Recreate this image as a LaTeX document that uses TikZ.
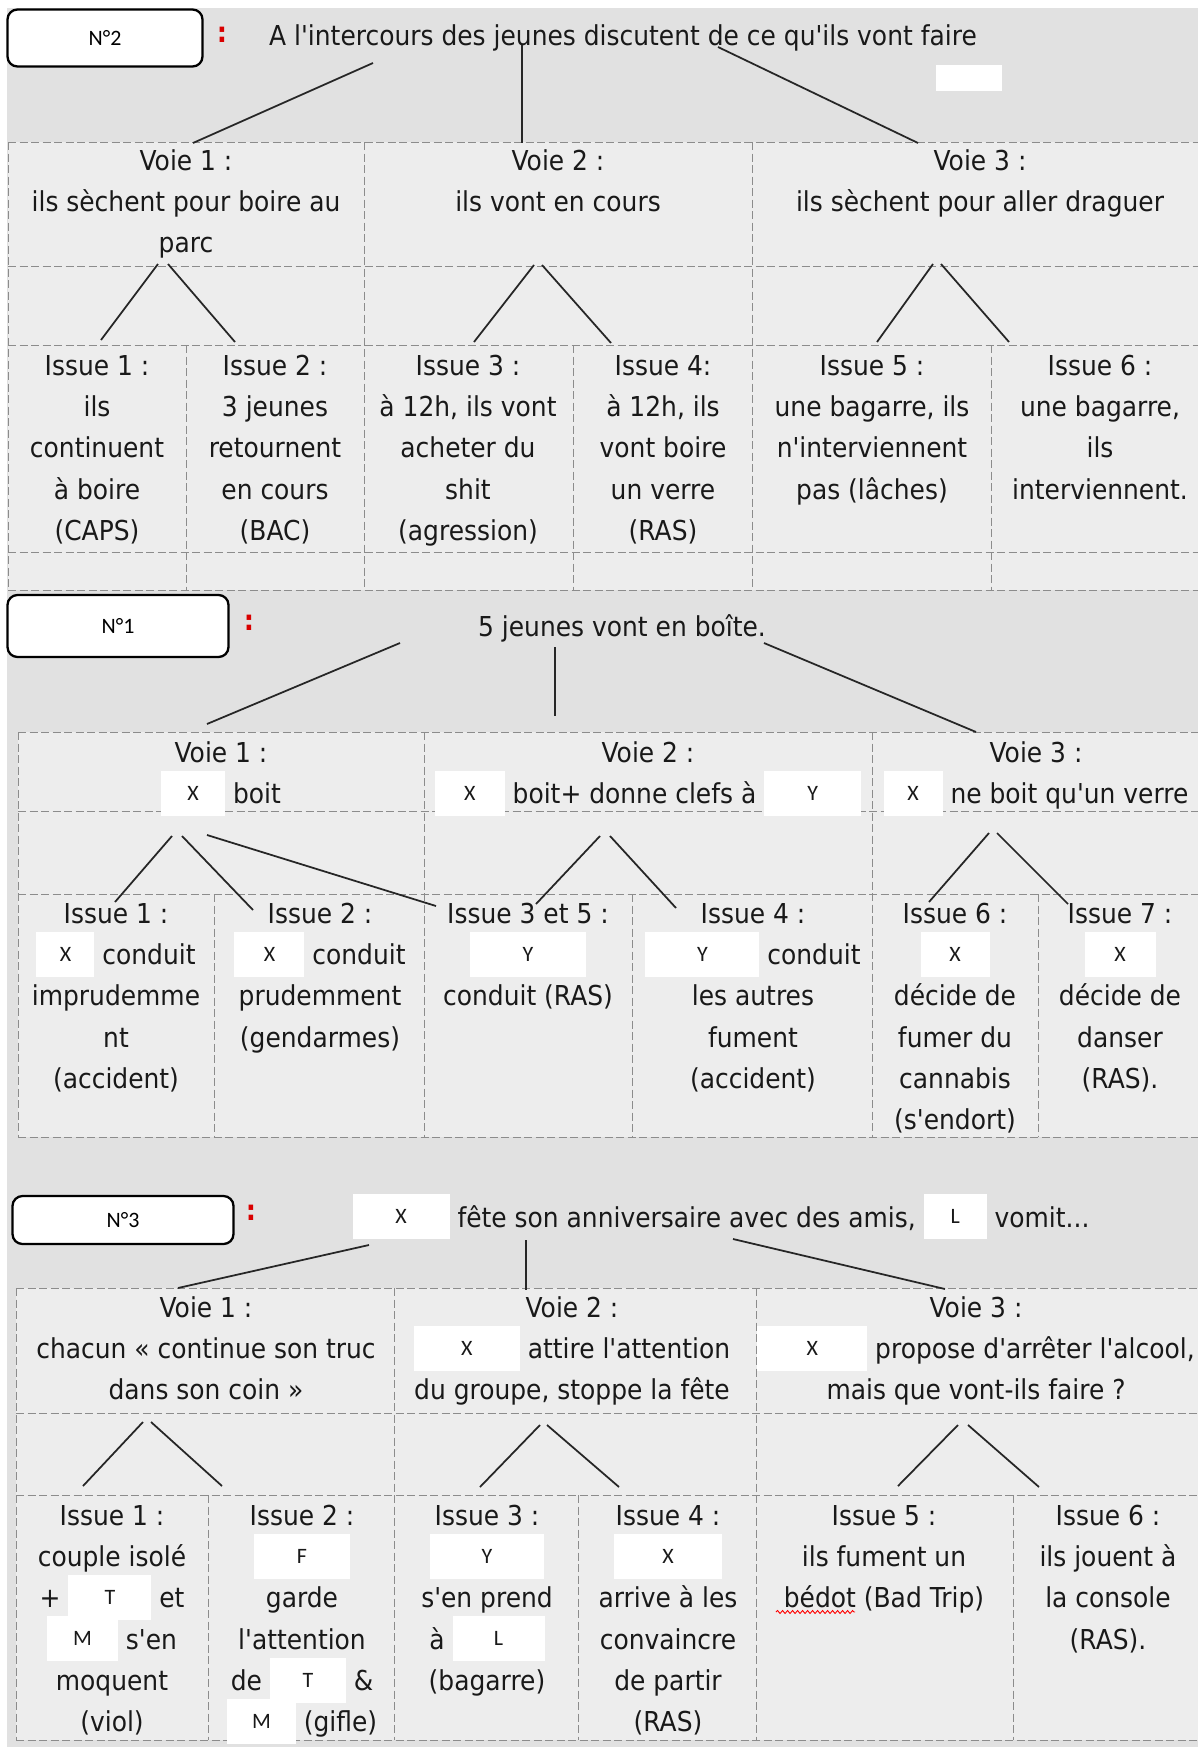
\documentclass[tikz,border=0pt]{standalone}
\usepackage{fontspec}
\usetikzlibrary{decorations.pathmorphing}
\newfontfamily\comicfont{DejaVu Sans}[FakeStretch=0.91]
\newfontfamily\maskfont{Carlito}
\definecolor{bggray}{RGB}{225,225,225}
\definecolor{cellgray}{RGB}{237,237,237}
\newcommand\txtfont{\comicfont\fontsize{15.6}{23.5}\selectfont\lineskiplimit=-\maxdimen}
\newcommand\fl{\rule{0pt}{7mm}}
\newcommand\msk[2]{{\setlength{\fboxsep}{0pt}\colorbox{white}{\rule[-2.4mm]{0pt}{9mm}\makebox[#2]{\raisebox{0.7mm}{\maskfont\fontsize{12.5}{12.5}\selectfont #1}}}}}
\tikzset{
  txt/.style={align=center, anchor=north, inner sep=0pt, text=black!90, font=\txtfont},
  grid/.style={draw=black!45, line width=0.35pt, dash pattern=on 1.6mm off 0.7mm},
  conn/.style={draw=black!85, line width=1pt},
  numbox/.style={draw, rounded corners=2mm, line width=1.3pt, fill=white, font=\maskfont\fontsize{12.5}{12.5}\selectfont},
  redcolon/.style={text=red!85!black, font=\comicfont\bfseries\fontsize{16}{16}\selectfont}
}
\begin{document}
\begin{tikzpicture}[x=0.2mm,y=-0.2mm]
\useasboundingbox (0,0) rectangle (1198,1747);
\fill[white] (0,0) rectangle (1198,1747);
\fill[bggray] (7,8) rectangle (1198,1747);
\fill[cellgray] (8,142) rectangle (1198,590);
\fill[cellgray] (18,732) rectangle (1198,1137);
\fill[cellgray] (16,1288) rectangle (1198,1740);

% table N°2
\draw[grid] (8,142) -- (1198,142) (8,266) -- (1198,266) (8,345) -- (1198,345) (8,552) -- (1198,552) (8,590) -- (1198,590);
\draw[grid] (8,142) -- (8,590) (364,142) -- (364,590) (752,142) -- (752,590);
\draw[grid] (186,345) -- (186,590) (573,345) -- (573,590) (991,345) -- (991,590);
% table N°1
\draw[grid] (18,732) -- (1198,732) (18,811) -- (1198,811) (18,894) -- (1198,894) (18,1137) -- (1198,1137);
\draw[grid] (18,732) -- (18,1137) (424,732) -- (424,1137) (872,732) -- (872,1137);
\draw[grid] (214,894) -- (214,1137) (632,894) -- (632,1137) (1038,894) -- (1038,1137);
% table N°3
\draw[grid] (16,1288) -- (1198,1288) (16,1413) -- (1198,1413) (16,1495) -- (1198,1495) (16,1740) -- (1198,1740);
\draw[grid] (16,1288) -- (16,1740) (394,1288) -- (394,1740) (756,1288) -- (756,1740);
\draw[grid] (208,1495) -- (208,1740) (578,1495) -- (578,1740) (1013,1495) -- (1013,1740);

% N°2
\node[numbox, minimum width=39mm, minimum height=11.4mm] (n2) at (105,38) {N°2};
\node[redcolon] (c2) at (222,35) {:};
\node[txt] (t2) at (623,10) {\fl A l'intercours des jeunes discutent de ce qu'ils vont faire};
\fill[white] (936,65) rectangle (1002,91);
\node[txt] (v21) at (186,135) {\fl Voie 1 :\\ils sèchent pour boire au\\parc};
\node[txt] (v22) at (558,135) {\fl Voie 2 :\\ils vont en cours};
\node[txt] (v23) at (980,135) {\fl Voie 3 :\\ils sèchent pour aller draguer};
\node[txt] (i21) at (97,340) {\fl Issue 1 :\\ils\\continuent\\à boire\\(CAPS)};
\node[txt] (i22) at (275,340) {\fl Issue 2 :\\3 jeunes\\retournent\\en cours\\(BAC)};
\node[txt] (i23) at (468,340) {\fl Issue 3 :\\à 12h, ils vont\\acheter du\\shit\\(agression)};
\node[txt] (i24) at (663,340) {\fl Issue 4:\\à 12h, ils\\vont boire\\un verre\\(RAS)};
\node[txt] (i25) at (872,340) {\fl Issue 5 :\\une bagarre, ils\\n'interviennent\\pas (lâches)};
\node[txt] (i26) at (1100,340) {\fl Issue 6 :\\une bagarre,\\ils\\interviennent.};

% N°1
\node[numbox, minimum width=44.2mm, minimum height=12.4mm] (n1) at (118,626) {N°1};
\node[redcolon] (c1) at (249,623) {:};
\node[txt] (t1) at (622,601) {\fl 5 jeunes vont en boîte.};
\node[txt] (v11) at (221,727) {\fl Voie 1 :\\\msk{X}{12.8mm} boit};
\node[txt] (v12) at (648,727) {\fl Voie 2 :\\\msk{X}{14mm} boit+ donne clefs à \msk{Y}{19.4mm}};
\node[txt] (v13) at (1036,727) {\fl Voie 3 :\\\msk{X}{11.8mm} ne boit qu'un verre};
\node[txt] (i11) at (116,888) {\fl Issue 1 :\\\msk{X}{11.6mm} conduit\\imprudemme\\nt\\(accident)};
\node[txt] (i12) at (320,888) {\fl Issue 2 :\\\msk{X}{14mm} conduit\\prudemment\\(gendarmes)};
\node[txt] (i13) at (528,888) {\fl Issue 3 et 5 :\\\msk{Y}{23.2mm}\\conduit (RAS)};
\node[txt] (i14) at (753,888) {\fl Issue 4 :\\\msk{Y}{22.8mm} conduit\\les autres\\fument\\(accident)};
\node[txt] (i16) at (955,888) {\fl Issue 6 :\\\msk{X}{13.8mm}\\décide de\\fumer du\\cannabis\\(s'endort)};
\node[txt] (i17) at (1120,888) {\fl Issue 7 :\\\msk{X}{14.2mm}\\décide de\\danser\\(RAS).};

% N°3
\node[numbox, minimum width=44.2mm, minimum height=9.6mm] (n3) at (123,1220) {N°3};
\node[redcolon] (c3) at (251,1213) {:};
\node[txt] (t3) at (721,1192) {\fl\msk{X}{19.4mm} fête son anniversaire avec des amis, \msk{L}{12.6mm} vomit...};
\node[txt] (v31) at (206,1282) {\fl Voie 1 :\\chacun « continue son truc\\dans son coin »};
\node[txt] (v32) at (572,1282) {\fl Voie 2 :\\\msk{X}{21.2mm} attire l'attention\\du groupe, stoppe la fête};
\node[txt] (v33) at (976,1282) {\fl Voie 3 :\\\msk{X}{22mm} propose d'arrêter l'alcool,\\mais que vont-ils faire ?};
\node[txt] (i31) at (112,1490) {\fl Issue 1 :\\couple isolé\\+ \msk{T}{16.6mm} et\\\msk{M}{14.2mm} s'en\\moquent\\(viol)};
\node[txt] (i32) at (302,1490) {\fl Issue 2 :\\\msk{F}{19.2mm}\\garde\\l'attention\\de \msk{T}{15.2mm} \&\\\msk{M}{13.8mm} (gifle)};
\node[txt] (i33) at (487,1490) {\fl Issue 3 :\\\msk{Y}{22.8mm}\\s'en prend\\à \msk{L}{18.4mm}\\(bagarre)};
\node[txt] (i34) at (668,1490) {\fl Issue 4 :\\\msk{X}{21.6mm}\\arrive à les\\convaincre\\de partir\\(RAS)};
\node[txt] (i35) at (884,1490) {\fl Issue 5 :\\ils fument un\\bédot (Bad Trip)};
\node[txt] (i36) at (1108,1490) {\fl Issue 6 :\\ils jouent à\\la console\\(RAS).};

% branch points
\coordinate (t2l) at (373,63); \coordinate (v21t) at (193,143);
\coordinate (t2m) at (522,45); \coordinate (v22t) at (522,143);
\coordinate (t2r) at (718,47); \coordinate (v23t) at (918,143);
\coordinate (v21l) at (158,264); \coordinate (i21t) at (101,340);
\coordinate (v21r) at (168,264); \coordinate (i22t) at (235,342);
\coordinate (v22l) at (534,265); \coordinate (i23t) at (474,342);
\coordinate (v22r) at (542,265); \coordinate (i24t) at (611,343);
\coordinate (v23l) at (933,264); \coordinate (i25t) at (877,342);
\coordinate (v23r) at (941,264); \coordinate (i26t) at (1009,342);

\coordinate (t1l) at (400,643); \coordinate (v11t) at (207,724);
\coordinate (t1m) at (555,647); \coordinate (v12t) at (555,716);
\coordinate (t1r) at (764,643); \coordinate (v13t) at (976,732);
\coordinate (v11l) at (172,836); \coordinate (i11t) at (115,902);
\coordinate (v11r) at (182,836); \coordinate (i12t) at (253,910);
\coordinate (v11x) at (207,835); \coordinate (i13t) at (436,906);
\coordinate (v12l) at (600,836); \coordinate (i13u) at (536,904);
\coordinate (v12r) at (610,836); \coordinate (i14t) at (676,908);
\coordinate (v13l) at (989,833); \coordinate (i16t) at (929,902);
\coordinate (v13r) at (997,833); \coordinate (i17t) at (1068,904);

\coordinate (t3l) at (369,1245); \coordinate (v31t) at (178,1288);
\coordinate (t3m) at (526,1240); \coordinate (v32t) at (526,1290);
\coordinate (t3r) at (733,1239); \coordinate (v33t) at (945,1289);
\coordinate (v31l) at (143,1422); \coordinate (i31t) at (83,1486);
\coordinate (v31r) at (151,1422); \coordinate (i32t) at (222,1486);
\coordinate (v32l) at (540,1425); \coordinate (i33t) at (480,1487);
\coordinate (v32r) at (547,1425); \coordinate (i34t) at (619,1487);
\coordinate (v33l) at (958,1425); \coordinate (i35t) at (898,1486);
\coordinate (v33r) at (968,1425); \coordinate (i36t) at (1039,1487);

\draw[conn] (t2l) -- (v21t);
\draw[conn] (t2m) -- (v22t);
\draw[conn] (t2r) -- (v23t);
\draw[conn] (v21l) -- (i21t);
\draw[conn] (v21r) -- (i22t);
\draw[conn] (v22l) -- (i23t);
\draw[conn] (v22r) -- (i24t);
\draw[conn] (v23l) -- (i25t);
\draw[conn] (v23r) -- (i26t);

\draw[conn] (t1l) -- (v11t);
\draw[conn] (t1m) -- (v12t);
\draw[conn] (t1r) -- (v13t);
\draw[conn] (v11l) -- (i11t);
\draw[conn] (v11r) -- (i12t);
\draw[conn] (v11x) -- (i13t);
\draw[conn] (v12l) -- (i13u);
\draw[conn] (v12r) -- (i14t);
\draw[conn] (v13l) -- (i16t);
\draw[conn] (v13r) -- (i17t);

\draw[conn] (t3l) -- (v31t);
\draw[conn] (t3m) -- (v32t);
\draw[conn] (t3r) -- (v33t);
\draw[conn] (v31l) -- (i31t);
\draw[conn] (v31r) -- (i32t);
\draw[conn] (v32l) -- (i33t);
\draw[conn] (v32r) -- (i34t);
\draw[conn] (v33l) -- (i35t);
\draw[conn] (v33r) -- (i36t);

% spelling mark under bedot
\coordinate (bd1) at (776,1612); \coordinate (bd2) at (855,1612);
\draw[red, line width=0.5pt, decorate, decoration={snake, amplitude=0.3mm, segment length=1mm}] (bd1) -- (bd2);
\end{tikzpicture}
\end{document}
